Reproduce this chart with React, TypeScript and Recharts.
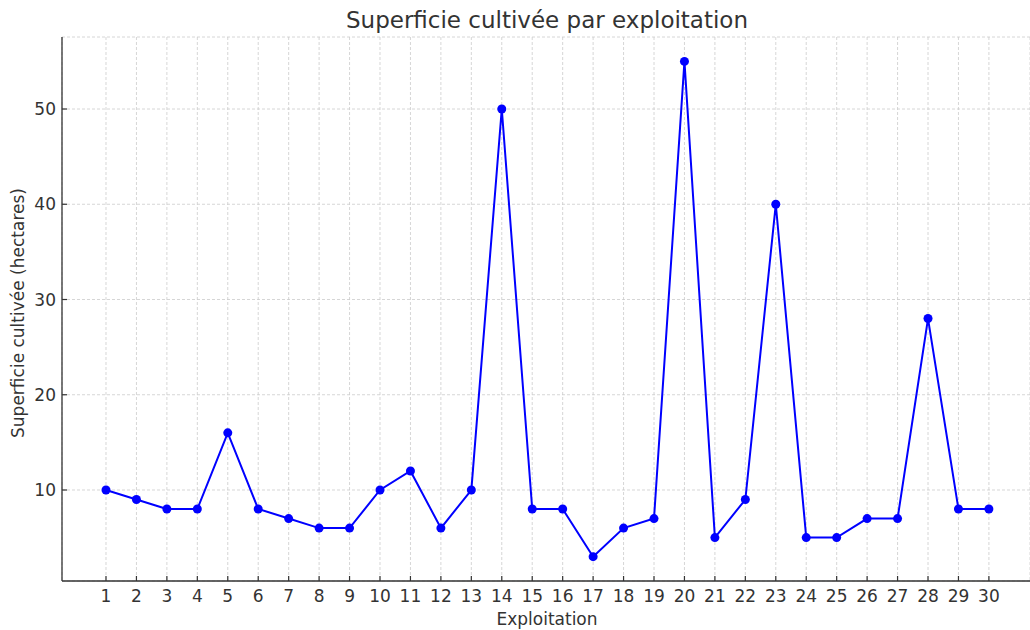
import React from 'react';
import { LineChart, Line, XAxis, YAxis, CartesianGrid } from 'recharts';

const exploitations = [1, 2, 3, 4, 5, 6, 7, 8, 9, 10, 11, 12, 13, 14, 15, 16, 17, 18, 19, 20, 21, 22, 23, 24, 25, 26, 27, 28, 29, 30];
const surfaces = [10, 9, 8, 8, 16, 8, 7, 6, 6, 10, 12, 6, 10, 50, 8, 8, 3, 6, 7, 55, 5, 9, 40, 5, 5, 7, 7, 28, 8, 8];
const yTicks = [10, 20, 30, 40, 50];

const title = 'Superficie cultivée par exploitation';
const xLabel = 'Exploitation';
const yLabel = 'Superficie cultivée (hectares)';

const data = exploitations.map((x, i) => ({ x, y: surfaces[i] }));

const TEXT = '#333333';
const FONT = '"DejaVu Sans", sans-serif';

const XTick = (props: any) => {
  const { x, y, payload } = props;
  return (
    <g>
      <line x1={x} x2={x} y1={y} y2={y - 5} stroke={TEXT} strokeWidth={1.2} />
      <text x={x} y={y + 21} textAnchor="middle" fill={TEXT} fontSize={17} fontFamily={FONT}>
        {payload.value}
      </text>
    </g>
  );
};

const YTick = (props: any) => {
  const { x, y, payload } = props;
  return (
    <g>
      <line x1={x} x2={x + 5} y1={y} y2={y} stroke={TEXT} strokeWidth={1.2} />
      <text x={x - 6} y={y + 6} textAnchor="end" fill={TEXT} fontSize={17} fontFamily={FONT}>
        {payload.value}
      </text>
    </g>
  );
};

export default function App() {
  return (
    <div style={{ position: 'absolute', left: 0, top: 0, width: 1030, height: 630, background: '#fff' }}>
      <LineChart width={1030} height={630} data={data} margin={{ top: 37, right: 0, bottom: 0, left: 0 }}>
        <CartesianGrid stroke="#cccccc" strokeDasharray="3 2" strokeWidth={0.8} />
        <XAxis
          type="number"
          dataKey="x"
          domain={[-0.445, 31.35]}
          ticks={exploitations}
          interval={0}
          allowDataOverflow
          height={49}
          tickSize={0}
          tickMargin={0}
          tickLine={false}
          axisLine={{ stroke: TEXT, strokeWidth: 1.3 }}
          tick={<XTick />}
        />
        <YAxis
          type="number"
          domain={[0.446, 57.56]}
          ticks={yTicks}
          interval={0}
          allowDataOverflow
          width={62}
          tickSize={0}
          tickMargin={0}
          tickLine={false}
          axisLine={{ stroke: TEXT, strokeWidth: 1.3 }}
          tick={<YTick />}
        />
        <Line
          type="linear"
          dataKey="y"
          stroke="#0000ff"
          strokeWidth={2}
          dot={{ r: 4.5, fill: '#0000ff', stroke: 'none' }}
          activeDot={false}
          isAnimationActive={false}
        />
      </LineChart>
      <svg width={1030} height={630} style={{ position: 'absolute', left: 0, top: 0, pointerEvents: 'none' }}>
        <text x={547} y={28} textAnchor="middle" fill={TEXT} fontSize={23} fontFamily={FONT}>
          {title}
        </text>
        <text x={547} y={625} textAnchor="middle" fill={TEXT} fontSize={17} fontFamily={FONT}>
          {xLabel}
        </text>
        <text
          x={24}
          y={313}
          textAnchor="middle"
          fill={TEXT}
          fontSize={17}
          fontFamily={FONT}
          transform="rotate(-90 24 313)"
        >
          {yLabel}
        </text>
      </svg>
    </div>
  );
}
